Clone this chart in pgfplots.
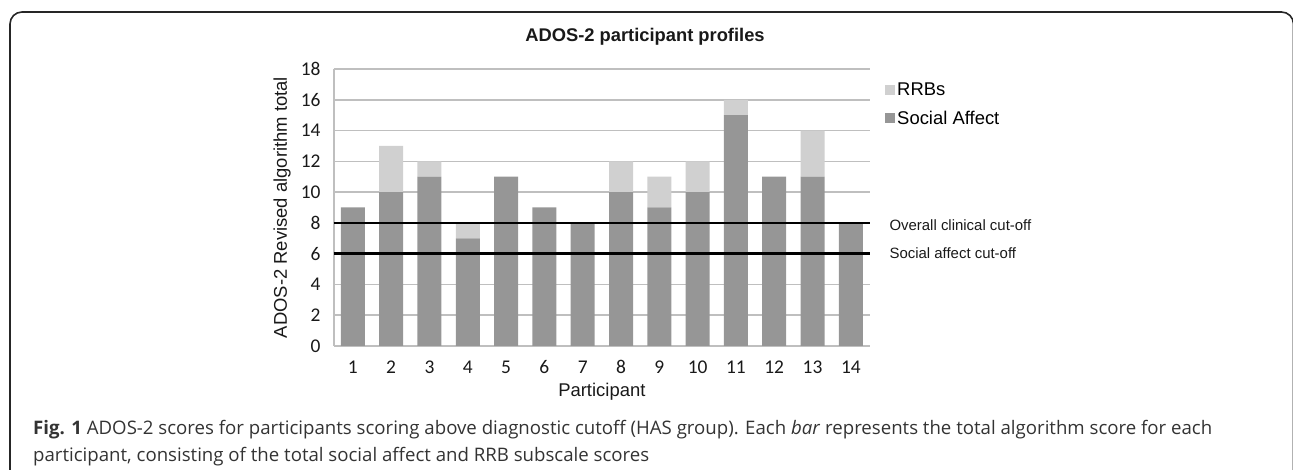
\documentclass[border=0pt]{standalone}
\usepackage{pgfplots}
\pgfplotsset{compat=1.18}
\usepackage{fontspec}
\setmainfont{Liberation Sans}
\newfontfamily\carlito{Carlito}
\newfontfamily\capfont{Open Sans}
\definecolor{sa}{HTML}{969696}
\definecolor{rrb}{HTML}{D0D0D0}
\definecolor{gridc}{HTML}{BFBFBF}

\begin{document}
\begin{tikzpicture}[x=1bp,y=1bp]
\useasboundingbox (0,0) rectangle (1293,470);
\draw[line width=1.6bp, rounded corners=12bp, color=black!85] (10,-20) -- (10,458) -- (1293.5,458) -- (1293.5,-20);
\node[font=\fontsize{18.4}{22}\selectfont\bfseries, color=black!90] at (645,433.3) {ADOS-2 participant profiles};

\begin{axis}[
  at={(333.7bp,124bp)}, anchor=south west,
  scale only axis, width=536.3bp, height=277bp,
  xmin=0.5, xmax=14.5, ymin=0, ymax=18,
  ybar stacked, bar width=24bp,
  xtick={1,...,14}, ytick={0,2,...,18},
  /pgf/number format/assume math mode=true,
  ymajorgrids, grid style={gridc, line width=1.6bp},
  axis lines*=left,
  axis line style={-, gridc, line width=1.6bp},
  every outer x axis line/.append style={-},
  every outer y axis line/.append style={-},
  major tick length=0pt,
  tick label style={font=\fontsize{19.5}{22}\carlito, color=black!90},
  xticklabel style={anchor=center, yshift=-21bp},
  yticklabel style={anchor=east, inner sep=0pt, xshift=-13bp},
  ylabel={ADOS-2 Revised algorithm total},
  xlabel={Participant},
  label style={font=\fontsize{18.5}{22}\selectfont, color=black!90},
  ylabel style={at={(axis description cs:-0.0964,0.5)}, anchor=center},
  xlabel style={at={(axis description cs:0.5,-0.166)}, anchor=center},
  reverse legend,
  legend cell align=left,
  legend style={at={(1.028,0.958)}, anchor=north west, draw=none, fill=none,
    inner sep=0pt, row sep=10bp, font=\fontsize{18.5}{22}\selectfont,
    nodes={inner sep=2bp}},
  legend image code/.code={\fill[#1] (0bp,-5bp) rectangle (10bp,5bp);},
]
\addplot[fill=sa, draw=none] coordinates {
(1,9) (2,10) (3,11) (4,7) (5,11) (6,9) (7,8) (8,10) (9,9) (10,10) (11,15) (12,11) (13,11) (14,8)};
\addlegendentry{Social Affect}
\addplot[fill=rrb, draw=none] coordinates {
(1,0) (2,3) (3,1) (4,1) (5,0) (6,0) (7,0) (8,2) (9,2) (10,2) (11,1) (12,0) (13,3) (14,0)};
\addlegendentry{RRBs}
\end{axis}

\begin{axis}[
  at={(333.7bp,124bp)}, anchor=south west,
  scale only axis, width=536.3bp, height=277bp,
  xmin=0.5, xmax=14.5, ymin=0, ymax=18,
  hide axis, clip=false,
]
\addplot[black, line width=2.6bp] coordinates {(0.5,8) (14.5,8)};
\addplot[black, line width=2.6bp] coordinates {(0.5,6) (14.5,6)};
\node[anchor=west, font=\fontsize{15}{18}\selectfont, color=black!90, xshift=16bp, yshift=-2bp] at (axis cs:14.5,8) {Overall clinical cut-off};
\node[anchor=west, font=\fontsize{15}{18}\selectfont, color=black!90, xshift=16bp] at (axis cs:14.5,6) {Social affect cut-off};
\end{axis}

\node[anchor=west, inner sep=0pt, font=\fontsize{18.7}{20}\capfont, color=black!80] at (33,40)
  {\textbf{Fig. 1} ADOS-2 scores for participants scoring above diagnostic cutoff (HAS group). Each \textit{bar} represents the total algorithm score for each};
\node[anchor=west, inner sep=0pt, font=\fontsize{18.7}{20}\capfont, color=black!80] at (33,13)
  {participant, consisting of the total social affect and RRB subscale scores};
\end{tikzpicture}
\end{document}
